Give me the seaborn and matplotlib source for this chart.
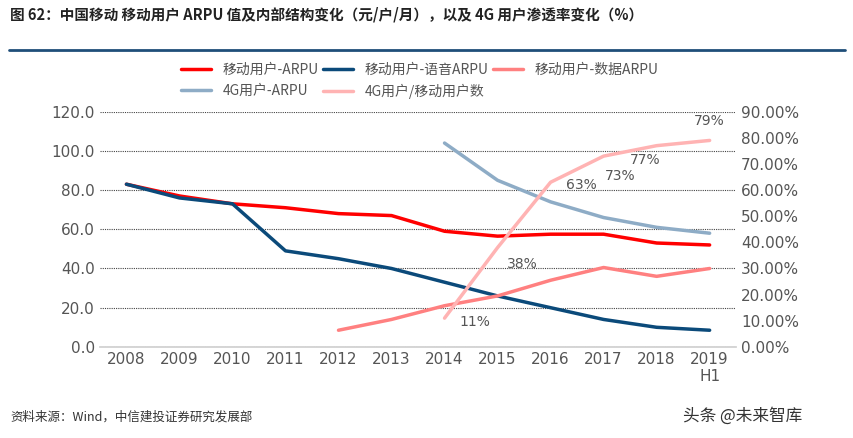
import matplotlib.pyplot as plt
import seaborn as sns
import pandas as pd
import numpy as np

sns.set_theme(style="white")
plt.rcParams['font.family'] = ['Noto Sans CJK SC', 'DejaVu Sans']

years = ["2008", "2009", "2010", "2011", "2012", "2013", "2014", "2015", "2016", "2017", "2018", "2019\nH1"]
arpu = [83, 77, 73, 71, 68, 67, 59, 56.5, 57.5, 57.5, 53, 52]
voice_arpu = [83, 76, 73, 49, 45, 40, 33, 26, 20, 14, 10, 8.5]
data_arpu = [np.nan] * 4 + [8.5, 14, 21, 26, 34, 40.5, 36, 40]
g4_arpu = [np.nan] * 6 + [104, 85, 74, 66, 61, 58]
g4_share = [np.nan] * 6 + [11, 38, 63, 73, 77, 79]

x = np.arange(len(years))
fig = plt.figure(figsize=(8.54, 4.38), dpi=100)
ax = fig.add_axes([0.117, 0.208, 0.745, 0.537])
ax2 = ax.twinx()

series = [("移动用户-ARPU", arpu, "#ff0000", ax),
          ("移动用户-语音ARPU", voice_arpu, "#0b4a7a", ax),
          ("移动用户-数据ARPU", data_arpu, "#ff8080", ax),
          ("4G用户-ARPU", g4_arpu, "#8eacc6", ax),
          ("4G用户/移动用户数", g4_share, "#ffb3b3", ax2)]
for label, vals, c, a in series:
    sns.lineplot(x=x, y=vals, ax=a, color=c, linewidth=2.5, label=label, legend=False)

offsets = {6: (22, -3), 7: (18, -12), 8: (22, -2), 9: (12, -14), 10: (-8, -10), 11: (0, 14)}
for xi, v in zip(x, g4_share):
    if not np.isnan(v):
        ax2.annotate(f"{v:.0f}%", (xi, v), xytext=offsets[xi], textcoords="offset points",
                     ha="center", va="center", fontsize=10, color="#555555", family="DejaVu Sans")

ax.set_ylim(0, 120)
ax.set_yticks(np.arange(0, 121, 20))
ax.set_yticklabels([f"{v:.1f}" for v in range(0, 121, 20)])
ax2.set_ylim(0, 90)
ax2.set_yticks(np.arange(0, 91, 10))
ax2.set_yticklabels([f"{v:.2f}%" for v in range(0, 91, 10)])
ax.set_xlim(-0.5, 11.5)
ax.set_xticks(x)
ax.set_xticklabels(years)
for a in (ax, ax2):
    a.tick_params(labelsize=11, colors="#555555", length=0)
    for s in a.spines.values():
        s.set_visible(False)
for t in ax.get_xticklabels() + ax.get_yticklabels() + ax2.get_yticklabels():
    t.set_family("DejaVu Sans")
ax.spines["bottom"].set_visible(True)
ax.spines["bottom"].set_color("#d0d0d0")
ax.yaxis.grid(True, color="#444444", linestyle=(0, (1, 1)), linewidth=0.8)

h1, l1 = ax.get_legend_handles_labels()
h2, l2 = ax2.get_legend_handles_labels()
h, l = h1 + h2, l1 + l2
order = [0, 3, 1, 4, 2]
fig.legend([h[i] for i in order], [l[i] for i in order], loc="upper left",
           bbox_to_anchor=(0.205, 0.87), ncol=3, frameon=False, fontsize=10,
           handlelength=2.2, columnspacing=0.3, labelcolor="#555555", borderaxespad=0)

fig.text(0.012, 0.955, "图 62：中国移动 移动用户 ARPU 值及内部结构变化（元/户/月），以及 4G 用户渗透率变化（%）",
         fontsize=10.5, fontweight="bold", color="#222222")
fig.add_artist(plt.Line2D([0.01, 0.99], [0.885, 0.885], color="#1f4e79", linewidth=2))
fig.text(0.012, 0.04, "资料来源：Wind，中信建投证券研究发展部", fontsize=9, style="italic", color="#333333")
fig.text(0.80, 0.04, "头条 @未来智库", fontsize=12, color="#333333")
fig.savefig("out.png", dpi=100)
